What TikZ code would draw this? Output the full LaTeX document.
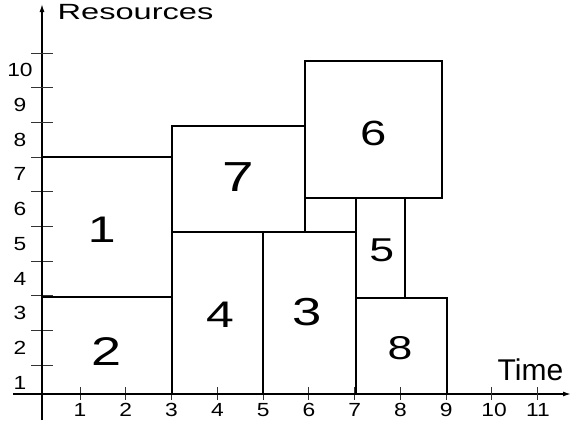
\documentclass[tikz,border=0pt]{standalone}
\usepackage{graphicx}
\usepackage{fontspec}
\setmainfont{Liberation Sans}
\usetikzlibrary{arrows.meta}
\newcommand\bigdigit[2]{\fontsize{#1bp}{#1bp}\selectfont\scalebox{1.35}[1]{#2}}
\newcommand\smalllab[1]{\fontsize{19bp}{19bp}\selectfont\scalebox{1.2}[1]{#1}}
\begin{document}
\begin{tikzpicture}[x=1bp,y=-1bp,
  box/.style={draw=black,line width=2bp},
  axisline/.style={draw=black,line width=1.4bp,-{Latex[length=8bp,width=5bp]}},
  tickline/.style={draw=black!80,line width=0.9bp},
  num/.style={inner sep=0pt,anchor=center},
  lab/.style={inner sep=0pt,anchor=center}]
\useasboundingbox (0,0) rectangle (571,420);
% axes
\coordinate (xs) at (13,394);
\coordinate (xe) at (571,394);
\coordinate (ys) at (42,420);
\coordinate (ye) at (42,4);
\draw[axisline] (xs) -- (xe);
\draw[axisline] (ys) -- (ye);
% x ticks and labels
\foreach \k in {1,...,11}{
  \pgfmathsetmacro\xx{34.3+45.76*\k}
  \draw[tickline] (\xx,387) -- (\xx,400);
}
\foreach \k in {1,...,9}{
  \pgfmathsetmacro\xx{34.3+45.76*\k}
  \node[lab] (xl\k) at (\xx,410) {\smalllab{\k}};
}
\node[lab] (xl10) at (494,410) {\smalllab{10}};
\node[lab] (xl11) at (538,410) {\smalllab{11}};
% y ticks and labels
\foreach \k in {1,...,10}{
  \pgfmathsetmacro\yy{400-34.7*\k}
  \draw[tickline] (31,\yy) -- (53,\yy);
  \pgfmathsetmacro\ly{417.35-34.7*\k}
  \node[lab] (yl\k) at (20,\ly) {\smalllab{\k}};
}
% axis titles
\node[inner sep=0pt,anchor=base] (res) at (135.5,19.5) {\fontsize{22bp}{22bp}\selectfont\scalebox{1.48}[1]{Resources}};
\node[inner sep=0pt,anchor=base] (time) at (530.5,380.5) {\fontsize{30bp}{30bp}\selectfont Time};
% boxes
\draw[box] (42,296.5) rectangle (171.7,394);
\draw[box] (42,156.7) rectangle (171.7,296.5);
\draw[box] (171.7,126) rectangle (305.3,232);
\draw[box] (171.7,232) rectangle (263.3,394);
\draw[box] (263.3,232) rectangle (355.5,394);
\draw[box] (305.3,61.3) rectangle (442,197.7);
\draw[box] (355.5,197.7) rectangle (405.3,298);
\draw[box] (355.5,298) rectangle (447,394);
% numbers
\node[num] (n1) at (101.7,230) {\bigdigit{37}{1}};
\node[num] (n2) at (106.7,352) {\bigdigit{40}{2}};
\node[num] (n7) at (238,176.7) {\bigdigit{42}{7}};
\node[num] (n4) at (220,315) {\bigdigit{37}{4}};
\node[num] (n3) at (307.3,312.3) {\bigdigit{39}{3}};
\node[num] (n6) at (373.3,133.3) {\bigdigit{35}{6}};
\node[num] (n5) at (381.7,250) {\bigdigit{33}{5}};
\node[num] (n8) at (400,348.3) {\bigdigit{33}{8}};
\end{tikzpicture}
\end{document}
